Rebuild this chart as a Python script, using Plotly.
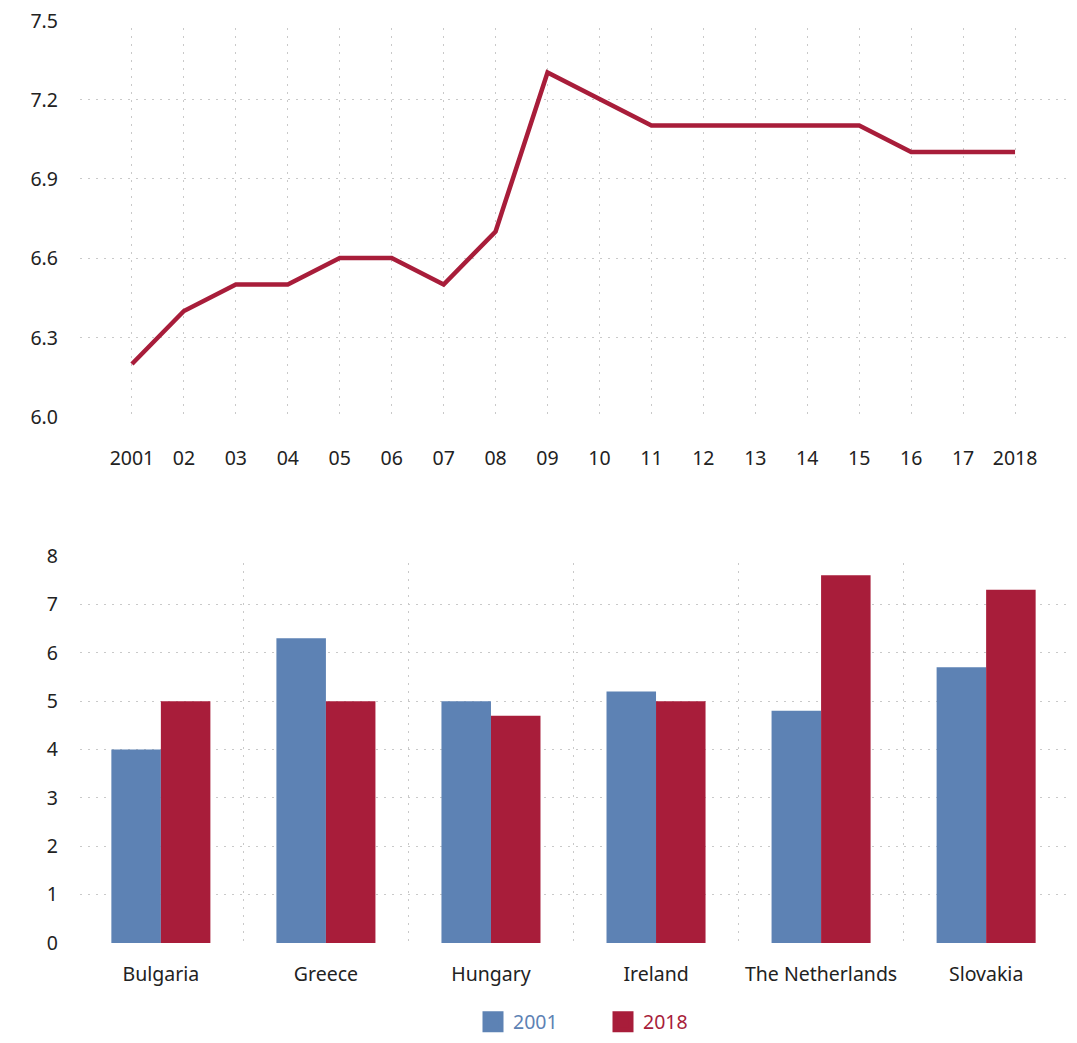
import plotly.graph_objects as go

# ---- data ----
years = list(range(2001, 2019))
year_labels = ["2001", "02", "03", "04", "05", "06", "07", "08", "09", "10",
               "11", "12", "13", "14", "15", "16", "17", "2018"]
line_values = [6.2, 6.4, 6.5, 6.5, 6.6, 6.6, 6.5, 6.7, 7.3, 7.2,
               7.1, 7.1, 7.1, 7.1, 7.1, 7.0, 7.0, 7.0]
top_ticks = [6.0, 6.3, 6.6, 6.9, 7.2, 7.5]
top_tick_labels = ["6.0", "6.3", "6.6", "6.9", "7.2", "7.5"]

countries = ["Bulgaria", "Greece", "Hungary", "Ireland", "The Netherlands", "Slovakia"]
values_2001 = [4.0, 6.3, 5.0, 5.2, 4.8, 5.7]
values_2018 = [5.0, 5.0, 4.7, 5.0, 7.6, 7.3]
bottom_ticks = [0, 1, 2, 3, 4, 5, 6, 7, 8]
series_names = ["2001", "2018"]

BLUE = "#5d82b4"
RED = "#a81d3a"
GRID = "#c9c9c9"
DASH = "2px,6px"
FONT = "Noto Sans"
TXT = "#222222"
FS = 19.5

# the page body adds an 8px margin around the figure
OFF = 8
W, H = 1077 - 2 * OFF, 1043 - 2 * OFF
def px_x(p):
    return (p - OFF) / W
def px_y(p):
    return 1 - (p - OFF) / H

# pixel layout of the two panels (page coordinates)
X0, X1 = 80, 1067
T_BOT, T_LAB_TOP, T_GRID_TOP = 417, 21, 28
B_BOT, B_LAB_TOP, B_GRID_TOP = 943, 556, 563

top_lo, top_hi = top_ticks[0], top_ticks[-1]
top_grid_hi = top_lo + (top_hi - top_lo) * (T_BOT - T_GRID_TOP) / (T_BOT - 19.5)
bot_lo, bot_hi = bottom_ticks[0], bottom_ticks[-1]
bot_grid_hi = bot_lo + (bot_hi - bot_lo) * (B_BOT - B_GRID_TOP) / (B_BOT - B_LAB_TOP)

fig = go.Figure()

fig.add_trace(go.Scatter(x=years, y=line_values, mode="lines",
                         line=dict(color=RED, width=4.5),
                         showlegend=False, xaxis="x", yaxis="y",
                         hoverinfo="x+y"))

fig.add_trace(go.Bar(x=countries, y=values_2001, marker_color=BLUE,
                     marker_line_width=0, name=series_names[0],
                     showlegend=False, xaxis="x2", yaxis="y2"))
fig.add_trace(go.Bar(x=countries, y=values_2018, marker_color=RED,
                     marker_line_width=0, name=series_names[1],
                     showlegend=False, xaxis="x2", yaxis="y2"))

# legend entries (square swatches, coloured text)
for nm, col in zip(series_names, [BLUE, RED]):
    fig.add_trace(go.Scatter(x=[None], y=[None], mode="markers",
                             marker=dict(symbol="square", size=16, color=col,
                                         line=dict(color=col, width=6)),
                             name=f"<span style='color:{col}'>{nm}</span>",
                             xaxis="x2", yaxis="y2", showlegend=True))

# invisible helper traces for the label-only axes
fig.add_trace(go.Scatter(x=[0], y=[top_lo], mode="markers",
                         marker=dict(opacity=0), showlegend=False,
                         hoverinfo="skip", xaxis="x3", yaxis="y3"))
fig.add_trace(go.Scatter(x=[0], y=[bot_lo], mode="markers",
                         marker=dict(opacity=0), showlegend=False,
                         hoverinfo="skip", xaxis="x4", yaxis="y4"))

xdom = [px_x(X0), px_x(X1)]
grid_kw = dict(showgrid=True, gridcolor=GRID, griddash=DASH, gridwidth=1)
plain = dict(zeroline=False, showline=False, ticks="", automargin=False)

fig.update_layout(
    width=W, height=H,
    margin=dict(l=0, r=0, t=0, b=0, autoexpand=False),
    paper_bgcolor="white",
    plot_bgcolor="rgba(0,0,0,0)",
    font=dict(family=FONT, size=FS, color=TXT),
    barmode="group", bargap=0.4, bargroupgap=0,
    showlegend=True,
    legend=dict(orientation="h", x=px_x(473), xanchor="left",
                y=px_y(1022), yanchor="middle",
                font=dict(size=FS), itemwidth=30, entrywidth=85,
                traceorder="normal"),
    # top panel: data + grid
    xaxis=dict(domain=xdom, anchor="y", range=[2000, 2019],
               tickvals=years, ticktext=year_labels,
               ticklabelstandoff=27, **grid_kw, **plain),
    yaxis=dict(domain=[px_y(T_BOT), px_y(T_GRID_TOP)], anchor="x",
               range=[top_lo, top_grid_hi], tickvals=top_ticks[1:-1],
               showticklabels=False, **grid_kw, **plain),
    # top panel: tick labels
    xaxis3=dict(domain=xdom, anchor="y3", range=[0, 1], visible=False),
    yaxis3=dict(domain=[px_y(T_BOT), px_y(T_LAB_TOP)], anchor="free",
                position=px_x(X0), range=[top_lo, top_hi],
                tickvals=top_ticks, ticktext=top_tick_labels,
                showgrid=False, ticklabelstandoff=22,
                ticklabeloverflow="allow", **plain),
    # bottom panel: data + grid
    xaxis2=dict(domain=xdom, anchor="y2", range=[-0.49, 5.49],
                tickson="boundaries", ticklabelstandoff=17,
                **grid_kw, **plain),
    yaxis2=dict(domain=[px_y(B_BOT), px_y(B_GRID_TOP)], anchor="x2",
                range=[bot_lo, bot_grid_hi], tickvals=bottom_ticks[1:-1],
                showticklabels=False, **grid_kw, **plain),
    # bottom panel: tick labels
    xaxis4=dict(domain=xdom, anchor="y4", range=[0, 1], visible=False),
    yaxis4=dict(domain=[px_y(B_BOT), px_y(B_LAB_TOP)], anchor="free",
                position=px_x(X0), range=[bot_lo, bot_hi],
                tickvals=bottom_ticks, showgrid=False, ticklabelstandoff=22,
                ticklabeloverflow="allow", **plain),
)

fig.write_html("out.html")
